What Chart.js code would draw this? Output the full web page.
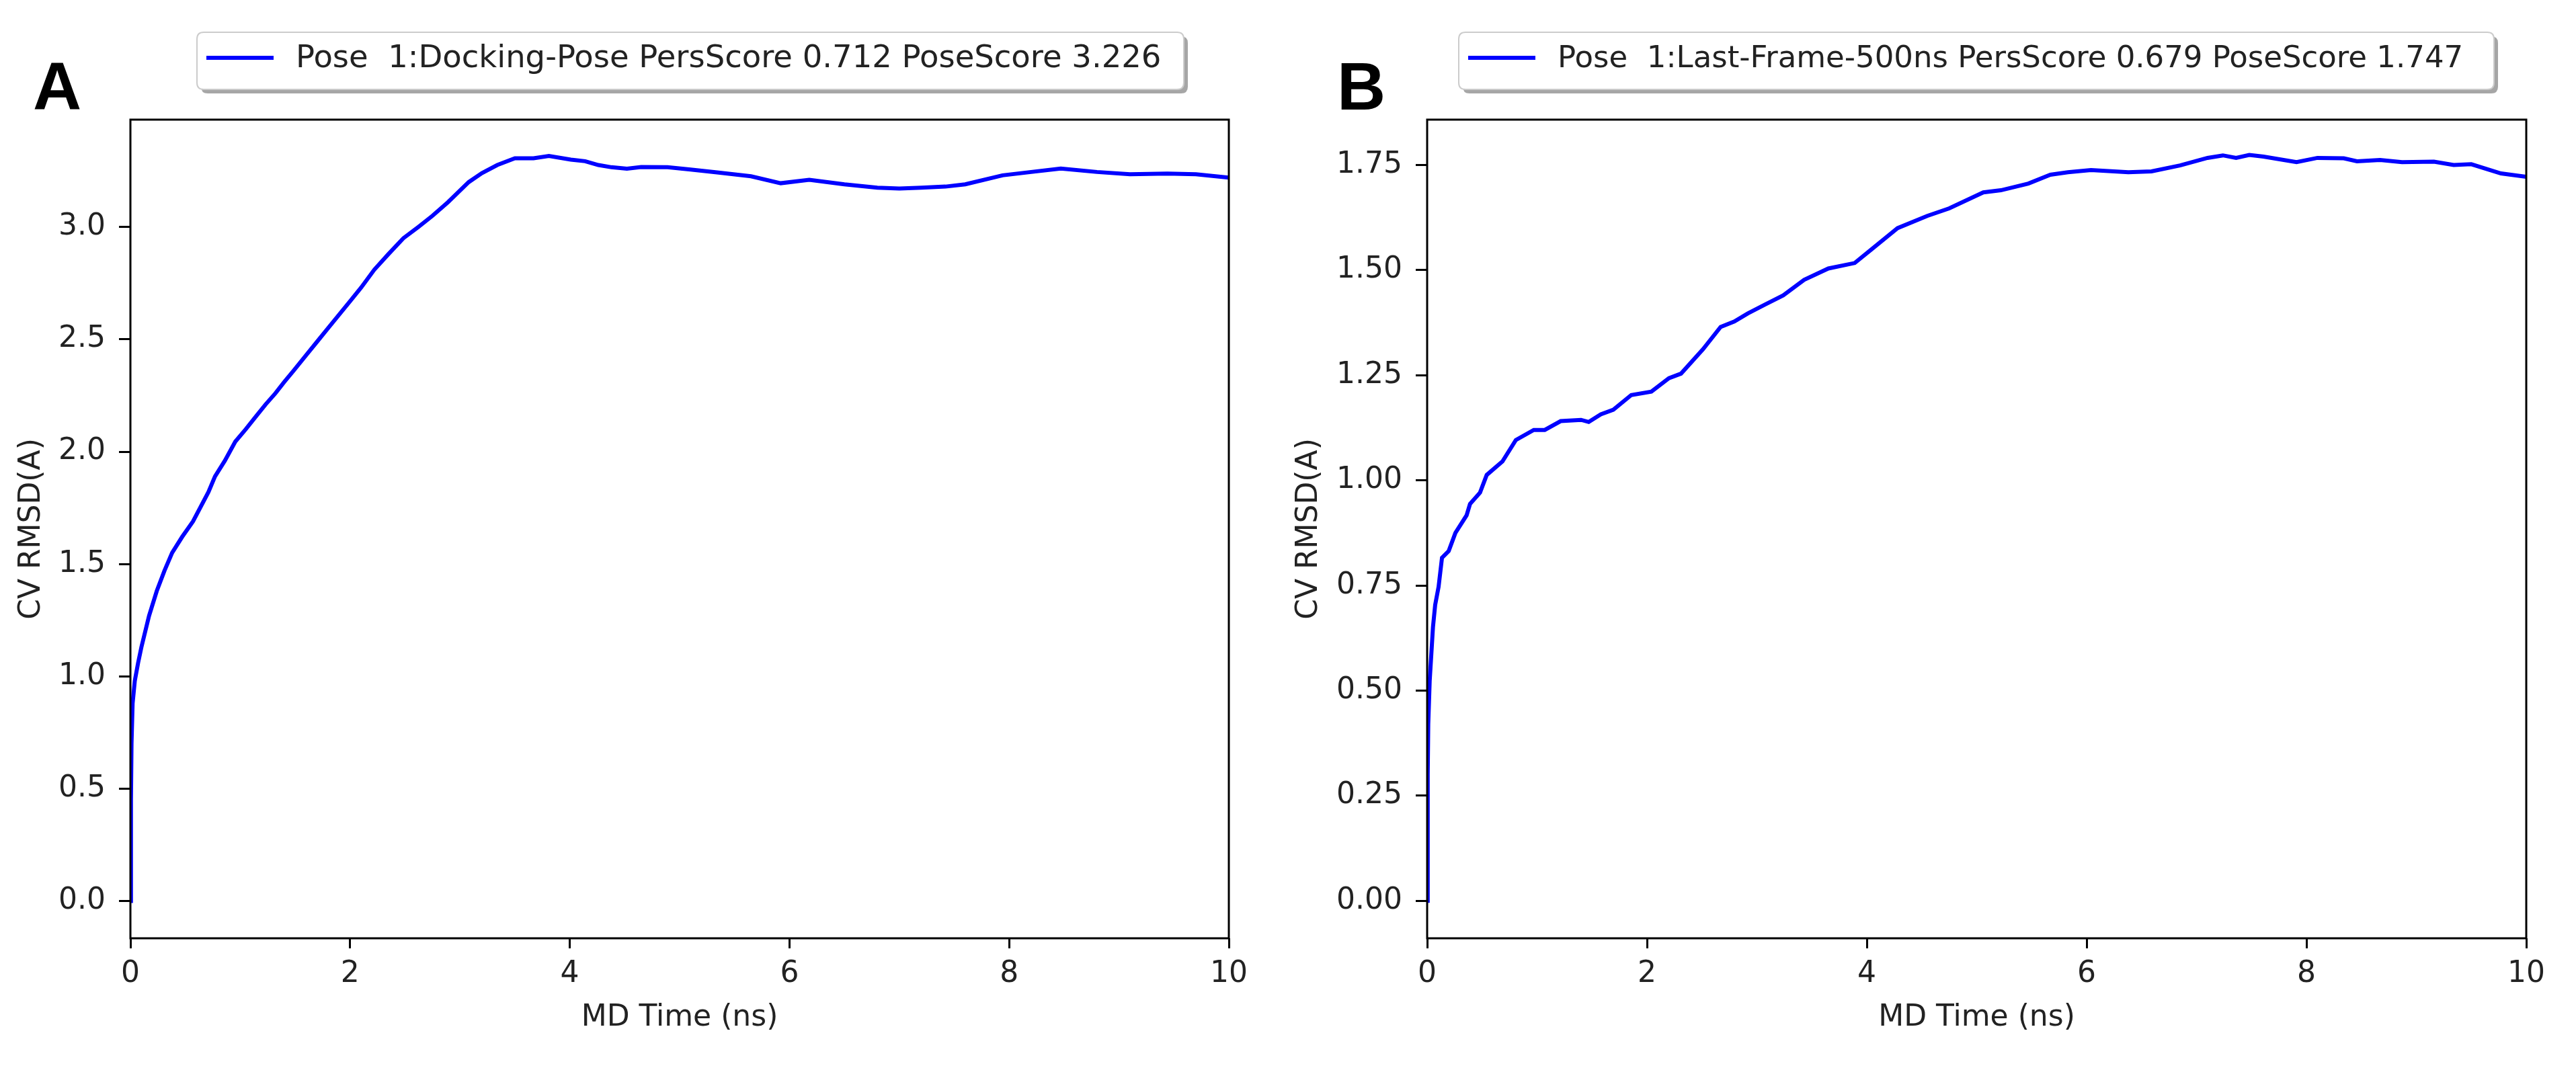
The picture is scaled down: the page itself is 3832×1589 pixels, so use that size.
<!DOCTYPE html>
<html>
<head>
<meta charset="utf-8">
<script src="https://cdn.jsdelivr.net/npm/chart.js@4.4.1/dist/chart.umd.min.js"></script>
<style>
  html, body { margin: 0; padding: 0; background: #fff; }
  #wrap { display: flex; width: 3832px; height: 1589px; }
  canvas { display: block; }
</style>
</head>
<body>
<div id="wrap">
  <canvas id="chartA" width="1916" height="1589"></canvas>
  <canvas id="chartB" width="1916" height="1589"></canvas>
</div>
<script>
// Panel A: Docking pose
const timeA = [0, 0.005, 0.01, 0.02, 0.04, 0.07, 0.1, 0.17, 0.24, 0.31, 0.38, 0.47, 0.57, 0.71, 0.77, 0.86, 0.955, 1.05, 1.14, 1.23, 1.32, 1.4, 1.485, 1.6, 1.7, 1.8, 1.9, 2.0, 2.1, 2.22, 2.35, 2.485, 2.62, 2.75, 2.89, 3.08, 3.2, 3.34, 3.5, 3.67, 3.81, 4.01, 4.14, 4.26, 4.38, 4.52, 4.65, 4.89, 5.1, 5.34, 5.65, 5.92, 6.18, 6.5, 6.8, 7.0, 7.2, 7.42, 7.6, 7.94, 8.2, 8.47, 8.8, 9.1, 9.44, 9.7, 10];
const rmsdA = [0, 0.45, 0.7, 0.88, 0.98, 1.06, 1.13, 1.27, 1.38, 1.47, 1.55, 1.62, 1.69, 1.82, 1.89, 1.96, 2.045, 2.1, 2.155, 2.21, 2.26, 2.31, 2.36, 2.43, 2.49, 2.55, 2.61, 2.67, 2.73, 2.81, 2.88, 2.95, 3.0, 3.05, 3.11, 3.2, 3.24, 3.276, 3.306, 3.306, 3.316, 3.3, 3.293, 3.276, 3.266, 3.26, 3.267, 3.266, 3.256, 3.243, 3.226, 3.195, 3.21, 3.19, 3.175, 3.171, 3.175, 3.18, 3.19, 3.23, 3.245, 3.26, 3.245, 3.235, 3.238, 3.235, 3.22];

// Panel B: last frame of 500 ns run
const timeB = [0, 0.005, 0.01, 0.023, 0.053, 0.073, 0.104, 0.135, 0.196, 0.257, 0.359, 0.39, 0.481, 0.542, 0.685, 0.807, 0.97, 1.07, 1.215, 1.4, 1.47, 1.58, 1.694, 1.857, 2.04, 2.2, 2.31, 2.51, 2.67, 2.795, 2.917, 3.08, 3.24, 3.43, 3.65, 3.89, 4.04, 4.28, 4.55, 4.75, 5.06, 5.22, 5.47, 5.67, 5.83, 6.04, 6.38, 6.59, 6.85, 7.1, 7.24, 7.36, 7.48, 7.61, 7.91, 8.1, 8.34, 8.46, 8.67, 8.87, 9.16, 9.34, 9.5, 9.77, 10];
const rmsdB = [0, 0.3, 0.42, 0.523, 0.651, 0.704, 0.747, 0.816, 0.832, 0.875, 0.917, 0.944, 0.971, 1.013, 1.045, 1.096, 1.12, 1.12, 1.141, 1.144, 1.139, 1.157, 1.168, 1.203, 1.211, 1.243, 1.254, 1.312, 1.365, 1.378, 1.397, 1.419, 1.44, 1.477, 1.504, 1.517, 1.549, 1.6, 1.629, 1.647, 1.685, 1.69, 1.706, 1.727, 1.733, 1.738, 1.733, 1.735, 1.749, 1.767, 1.773, 1.767, 1.774, 1.77, 1.757, 1.767, 1.766, 1.759, 1.762, 1.757, 1.758, 1.75, 1.752, 1.73, 1.722];

const xTicks = [0, 2, 4, 6, 8, 10];
const yTicksA = [0, 0.5, 1.0, 1.5, 2.0, 2.5, 3.0];
const yTicksB = [0, 0.25, 0.5, 0.75, 1.0, 1.25, 1.5, 1.75];

const labelA = "Pose  1:Docking-Pose PersScore 0.712 PoseScore 3.226";
const labelB = "Pose  1:Last-Frame-500ns PersScore 0.679 PoseScore 1.747";

const FONT = "'DejaVu Sans', sans-serif";
const TEXT_COLOR = "#222";

// frame, shadowed legend box on top and the big panel letter
const decoPlugin = {
  id: "deco",
  afterDraw(chart, args, opts) {
    const ctx = chart.ctx;
    const area = chart.chartArea;
    ctx.save();

    // full box around the plot
    ctx.strokeStyle = "#000";
    ctx.lineWidth = 3;
    ctx.strokeRect(area.left, area.top, area.right - area.left, area.bottom - area.top);

    // legend
    const ds = chart.data.datasets[0];
    const bx = opts.boxX, by = 48, bh = 85, bw = opts.boxW;
    ctx.fillStyle = "rgba(0,0,0,0.35)";
    roundRect(ctx, bx + 6, by + 6, bw, bh, 10);
    ctx.fill();
    ctx.fillStyle = "#fff";
    ctx.strokeStyle = "#ccc";
    ctx.lineWidth = 2;
    roundRect(ctx, bx, by, bw, bh, 10);
    ctx.fill();
    ctx.stroke();

    ctx.strokeStyle = ds.borderColor;
    ctx.lineWidth = 6;
    ctx.beginPath();
    ctx.moveTo(bx + 14, by + 38);
    ctx.lineTo(bx + 114, by + 38);
    ctx.stroke();

    ctx.font = opts.legendSize + "px " + FONT;
    ctx.fillStyle = TEXT_COLOR;
    ctx.textBaseline = "middle";
    ctx.textAlign = "left";
    ctx.fillText(ds.label, bx + 147, by + 40);

    // panel letter
    ctx.font = "bold 100px 'Liberation Sans', Arial, sans-serif";
    ctx.fillStyle = "#000";
    ctx.textBaseline = "alphabetic";
    ctx.fillText(opts.letter, opts.letterX, 163);
    ctx.restore();
  }
};

function roundRect(ctx, x, y, w, h, r) {
  ctx.beginPath();
  ctx.moveTo(x + r, y);
  ctx.lineTo(x + w - r, y);
  ctx.quadraticCurveTo(x + w, y, x + w, y + r);
  ctx.lineTo(x + w, y + h - r);
  ctx.quadraticCurveTo(x + w, y + h, x + w - r, y + h);
  ctx.lineTo(x + r, y + h);
  ctx.quadraticCurveTo(x, y + h, x, y + h - r);
  ctx.lineTo(x, y + r);
  ctx.quadraticCurveTo(x, y, x + r, y);
  ctx.closePath();
}

function makeChart(id, times, values, label, yTicks, yMin, yMax, decimals, yAxisWidth, padRight, titlePad, deco) {
  const points = times.map((t, i) => ({ x: t, y: values[i] }));
  const tickFont = { family: FONT, size: 44 };

  return new Chart(document.getElementById(id), {
    type: "line",
    data: {
      datasets: [{
        label: label,
        data: points,
        borderColor: "#0000ff",
        borderWidth: 6,
        pointRadius: 0,
        tension: 0,
        fill: false
      }]
    },
    options: {
      responsive: false,
      animation: false,
      devicePixelRatio: 1,
      layout: { padding: { top: 178, right: padRight, bottom: 0, left: 0 } },
      plugins: {
        legend: { display: false },
        tooltip: { enabled: false },
        deco: deco
      },
      scales: {
        x: {
          type: "linear",
          min: 0,
          max: 10,
          afterBuildTicks: s => { s.ticks = xTicks.map(v => ({ value: v })); },
          afterFit: s => { s.height = 193; },
          grid: { display: true, drawOnChartArea: false, tickLength: 15, tickWidth: 3, tickColor: "#000" },
          border: { display: false },
          ticks: { color: TEXT_COLOR, font: tickFont, padding: 12, maxRotation: 0 },
          title: { display: true, text: "MD Time (ns)", color: TEXT_COLOR, font: { family: FONT, size: 44 }, padding: { top: 0, bottom: 48 } }
        },
        y: {
          type: "linear",
          min: yMin,
          max: yMax,
          afterBuildTicks: s => { s.ticks = yTicks.map(v => ({ value: v })); },
          afterFit: s => { s.width = yAxisWidth; },
          grid: { display: true, drawOnChartArea: false, tickLength: 17, tickWidth: 3, tickColor: "#000" },
          border: { display: false },
          ticks: { color: TEXT_COLOR, font: tickFont, padding: 20, callback: v => Number(v).toFixed(decimals) },
          title: { display: true, text: "CV RMSD(A)", color: TEXT_COLOR, font: { family: FONT, size: 44 }, padding: { top: titlePad, bottom: 0 } }
        }
      }
    },
    plugins: [decoPlugin]
  });
}

makeChart("chartA", timeA, rmsdA, labelA, yTicksA, -0.166, 3.478, 1, 194, 88, 21,
  { letter: "A", letterX: 49, boxX: 293, boxW: 1468, legendSize: 46.5 });
makeChart("chartB", timeB, rmsdB, labelB, yTicksB, -0.089, 1.858, 2, 207, 74, 5,
  { letter: "B", letterX: 73, boxX: 254, boxW: 1540, legendSize: 45 });
</script>
</body>
</html>
